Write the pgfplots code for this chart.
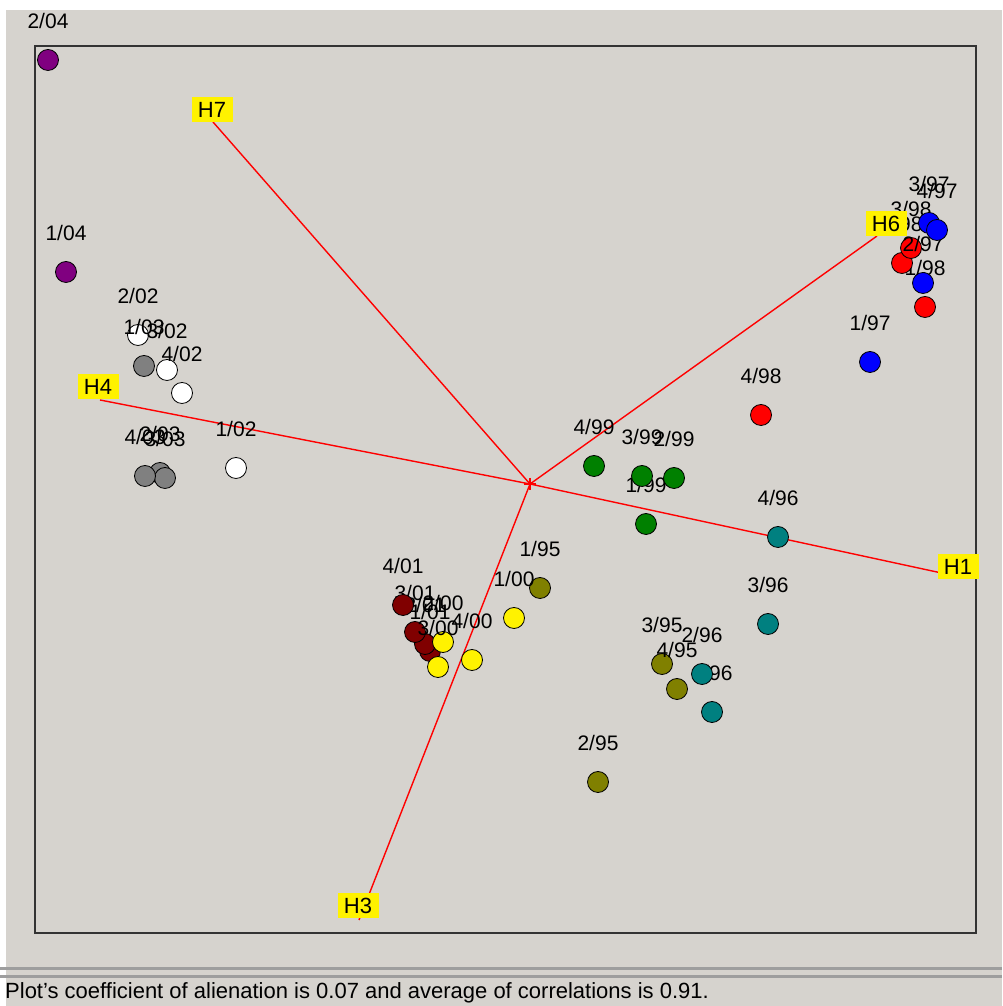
\documentclass[border=0pt]{standalone}
\usepackage{pgfplots}
\pgfplotsset{compat=1.18}
\usepackage{fontspec}
\setmainfont{Liberation Sans}
\definecolor{bg}{RGB}{214,211,206}
\definecolor{cpurple}{RGB}{128,0,128}
\definecolor{cmaroon}{RGB}{128,0,0}
\definecolor{colive}{RGB}{128,128,0}
\definecolor{cteal}{RGB}{0,128,128}
\definecolor{cgreen}{RGB}{0,128,0}
\definecolor{cgray}{RGB}{128,128,128}
\definecolor{cline}{RGB}{255,0,0}
\newcommand\lab{\fontsize{21}{24}\selectfont}
\pgfplotsset{pt/.style={only marks, mark=*, mark size=10.5,
  mark options={fill=#1, draw=black, line width=0.8pt},
  nodes near coords, point meta=explicit symbolic,
  nodes near coords style={font=\lab, anchor=center, yshift=39pt, text=black, inner sep=0pt}}}
\begin{document}
\begin{tikzpicture}
\begin{axis}[scale only axis, width=1002pt, height=1006pt,
  xmin=0, xmax=1002, ymin=0, ymax=1006, y dir=reverse,
  hide axis, clip=false, set layers]
\fill[white] (0,0) rectangle (1002,1006);
\fill[bg] (6,10) rectangle (1002,1006);
\draw[line width=2pt, black!80] (35,46) rectangle (976,933);
% status bar
\fill[black!38] (0,967) rectangle (1002,970);
\fill[black!38] (0,975) rectangle (1002,978);
\node[anchor=west, font=\fontsize{22}{24}\selectfont, inner sep=0pt] at (5,993) {Plot's coefficient of alienation is 0.07 and average of correlations is 0.91.};
% vectors
\addplot[cline, line width=1.4pt] coordinates {(530,484) (213,122)};
\addplot[cline, line width=1.4pt] coordinates {(530,484) (100,400)};
\addplot[cline, line width=1.4pt] coordinates {(530,484) (877,236)};
\addplot[cline, line width=1.4pt] coordinates {(530,484) (960,577)};
\addplot[cline, line width=1.4pt] coordinates {(530,484) (359,920)};
\addplot[cline, line width=1.4pt] coordinates {(524,484) (536,484)};
\addplot[cline, line width=1.4pt] coordinates {(530,478) (530,490)};
% points
\addplot[pt=cpurple] table[meta=label, row sep=\\] {x y label \\ 48 60 2/04 \\ 66 272 1/04 \\};
\addplot[pt=white] table[meta=label, row sep=\\] {x y label \\ 236 468 1/02 \\ 138 335 2/02 \\ 167 370 3/02 \\ 182 393 4/02 \\};
\addplot[pt=cgray] table[meta=label, row sep=\\] {x y label \\ 144 366 1/03 \\ 160 473 2/03 \\ 165 478 3/03 \\ 145 476 4/03 \\};
\addplot[pt=cteal] table[meta=label, row sep=\\] {x y label \\ 712 712 1/96 \\ 702 674 2/96 \\ 768 624 3/96 \\ 778 537 4/96 \\};
\addplot[pt=colive] table[meta=label, row sep=\\] {x y label \\ 540 588 1/95 \\ 598 782 2/95 \\ 662 664 3/95 \\ 677 689 4/95 \\};
\addplot[pt=cgreen] table[meta=label, row sep=\\] {x y label \\ 646 524 1/99 \\ 674 478 2/99 \\ 642 476 3/99 \\ 594 466 4/99 \\};
\addplot[pt=cmaroon] table[meta=label, row sep=\\] {x y label \\ 430 651 1/01 \\ 425 644 2/01 \\ 415 632 3/01 \\ 403 605 4/01 \\};
\addplot[pt=yellow] table[meta=label, row sep=\\] {x y label \\ 514 618 1/00 \\ 443 642 2/00 \\ 438 667 3/00 \\ 472 660 4/00 \\};
\addplot[pt=red] table[meta=label, row sep=\\] {x y label \\ 925 307 1/98 \\ 902 263 2/98 \\ 911 248 3/98 \\ 761 415 4/98 \\};
\addplot[pt=blue] table[meta=label, row sep=\\] {x y label \\ 870 362 1/97 \\ 923 283 2/97 \\ 929 223 3/97 \\ 937 230 4/97 \\};
% variable labels
\tikzset{hl/.style={fill=yellow, font=\fontsize{22}{24}\selectfont, inner sep=0pt, minimum width=41pt, minimum height=25pt, text=black}}
\begin{pgfonlayer}{axis foreground}
\node[hl] at (212,110) {H7};
\node[hl] at (98,387) {H4};
\node[hl] at (886,224) {H6};
\node[hl] at (958,567) {H1};
\node[hl] at (358,906) {H3};
\end{pgfonlayer}
\end{axis}
\end{tikzpicture}
\end{document}
